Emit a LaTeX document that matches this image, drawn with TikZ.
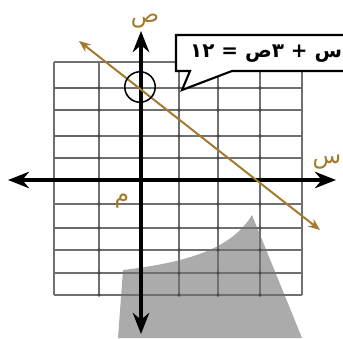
\documentclass[tikz,border=0pt]{standalone}
\usepackage{fontspec}
\newfontfamily\arabicfont[Script=Arabic]{DejaVu Sans}
\TeXXeTstate=1
\usetikzlibrary{arrows.meta}
\definecolor{linebrown}{HTML}{A47A2E}
\definecolor{shadegray}{HTML}{ABABAB}
\definecolor{gridgray}{HTML}{707070}

\begin{document}
\begin{tikzpicture}[
    x=0.03cm, y=-0.03cm,
    gridline/.style={gridgray, line width=1.7pt},
    edgeline/.style={black!60, line width=2.4pt},
    axis/.style={line width=3.4pt, {Stealth[length=18pt,width=14pt]}-{Stealth[length=18pt,width=14pt]}},
    graph/.style={linebrown, line width=1.7pt, {Stealth[length=10pt,width=8pt]}-{Stealth[length=10pt,width=8pt]}},
    axislabel/.style={linebrown, font=\arabicfont\fontsize{20}{20}\selectfont, inner sep=0pt},
    callout/.style={fill=white, draw=black, line width=1.8pt, line join=miter}
]
\useasboundingbox (0,0) rectangle (343,338);

\fill[shadegray] (123,270) .. controls (190,262) and (232,248) .. (252,215) -- (302,338) -- (118,338) -- cycle;

\foreach \gx in {54,99,140,179,218,260,302}
    \draw[gridline] (\gx,62) -- (\gx,295);
\foreach \gy in {62,88,110,136,158,180,204,228,250,273,295}
    \draw[gridline] (54,\gy) -- (302,\gy);
\foreach \gy in {88,110,136,158,228}
    \draw[edgeline] (54,\gy) -- (99,\gy);
\foreach \gx in {99,179,218,260}
    \foreach \gy in {88,110,136,158,204,228,250,273,295}
        \fill[black!70] (\gx,\gy) circle (1.5pt);

\coordinate (xleft) at (8,180);
\coordinate (xright) at (336,180);
\coordinate (ytop) at (141,31);
\coordinate (ybottom) at (141,334);
\draw[axis] (xleft) -- (xright);
\draw[axis] (ybottom) -- (ytop);

\coordinate (gstart) at (79,41);
\coordinate (gend) at (320,230);
\draw[graph] (gstart) -- (gend);

\node[draw, circle, line width=1.3pt, minimum size=26pt, inner sep=0pt] (cross) at (140,87) {};

\draw[callout] (176,35) -- (360,35) -- (360,71) -- (232,71) -- (182,90) -- (190,71) -- (176,71) -- cycle;
\node[font=\arabicfont\bfseries\fontsize{17}{17}\selectfont, anchor=west, inner sep=0pt] (eqn) at (190,54) {\beginR س + ٣ص = \beginL ١٢\endL\endR};

\node[axislabel] (ylabel) at (145,21) {ص};
\node[axislabel] (xlabel) at (327,162) {س};
\node[axislabel] (olabel) at (122,201) {م};
\end{tikzpicture}
\end{document}
